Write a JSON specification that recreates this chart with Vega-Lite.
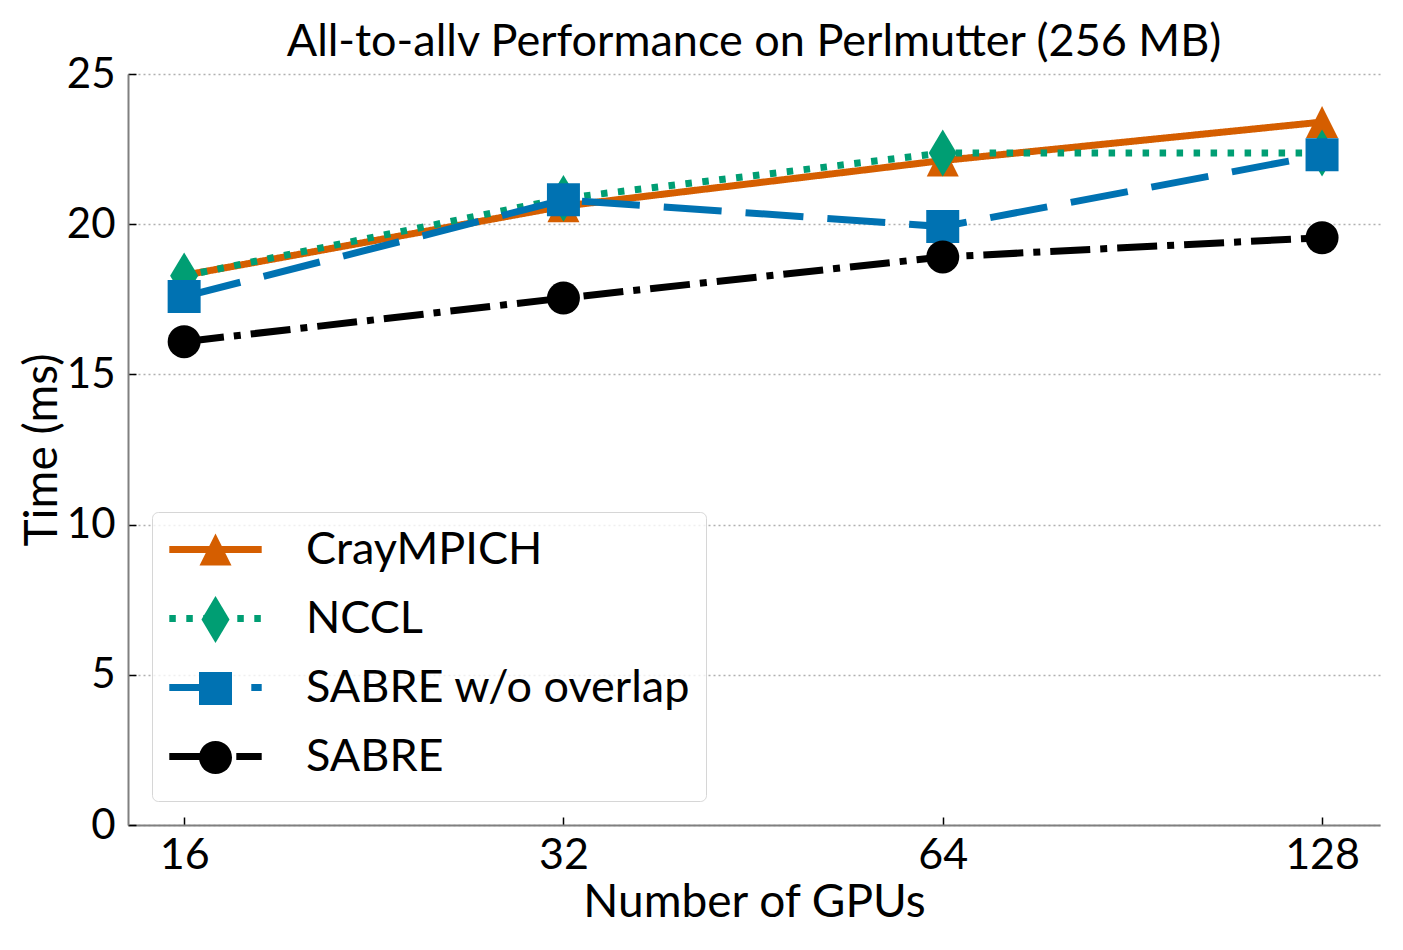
{
  "$schema": "https://vega.github.io/schema/vega-lite/v6.json",
  "autosize": {"type": "none"},
  "padding": {"left": 128, "top": 74, "right": 23, "bottom": 125},
  "width": 1252,
  "height": 751,
  "background": "white",
  "title": {"text": "All-to-allv Performance on Perlmutter (256 MB)", "font": "Lato", "fontSize": 45, "fontWeight": "normal", "color": "black", "offset": 9, "dy": 21, "anchor": "middle"},
  "config": {
    "view": {"stroke": null},
    "font": "Lato",
    "axis": {"labelFont": "Lato", "titleFont": "Lato", "labelColor": "black", "titleColor": "black", "titleFontWeight": "normal"}
  },
  "data": {"values": [
    {"gpus": 16, "time": 18.3, "series": "CrayMPICH"},
    {"gpus": 32, "time": 20.6, "series": "CrayMPICH"},
    {"gpus": 64, "time": 22.12, "series": "CrayMPICH"},
    {"gpus": 128, "time": 23.4, "series": "CrayMPICH"},
    {"gpus": 16, "time": 18.28, "series": "NCCL"},
    {"gpus": 32, "time": 20.86, "series": "NCCL"},
    {"gpus": 64, "time": 22.37, "series": "NCCL"},
    {"gpus": 128, "time": 22.37, "series": "NCCL"},
    {"gpus": 16, "time": 17.59, "series": "SABRE w/o overlap"},
    {"gpus": 32, "time": 20.81, "series": "SABRE w/o overlap"},
    {"gpus": 64, "time": 19.92, "series": "SABRE w/o overlap"},
    {"gpus": 128, "time": 22.31, "series": "SABRE w/o overlap"},
    {"gpus": 16, "time": 16.09, "series": "SABRE"},
    {"gpus": 32, "time": 17.54, "series": "SABRE"},
    {"gpus": 64, "time": 18.91, "series": "SABRE"},
    {"gpus": 128, "time": 19.55, "series": "SABRE"}
  ]},
  "encoding": {
    "x": {"field": "gpus", "type": "quantitative",
      "scale": {"type": "log", "base": 2, "domain": [14.44, 142.3], "nice": false},
      "axis": {"values": [16, 32, 64, 128], "title": "Number of GPUs", "titleFontSize": 46, "labelFontSize": 43, "grid": false,
        "domainColor": "#808080", "domainWidth": 2, "tickColor": "black", "tickWidth": 1.5, "tickSize": -8, "labelPadding": 17, "titlePadding": 3, "labelFlush": false}},
    "y": {"field": "time", "type": "quantitative",
      "scale": {"domain": [0, 25], "nice": false},
      "axis": {"values": [0, 5, 10, 15, 20, 25], "title": "Time (ms)", "titleFontSize": 46, "labelFontSize": 42, "grid": true,
        "gridColor": "#b0b0b0", "gridDash": [2, 3], "gridWidth": 1.3,
        "domainColor": "#808080", "domainWidth": 2, "tickColor": "black", "tickWidth": 1.5, "tickSize": -8, "labelPadding": 21, "titlePadding": 0, "labelFlush": false}}
  },
  "layer": [
    {
      "mark": {"type": "line", "strokeWidth": 7, "strokeCap": "butt"},
      "encoding": {
        "stroke": {"field": "series", "type": "nominal",
          "scale": {"domain": {"expr": "['CrayMPICH', 'NCCL', 'SABRE w/o overlap', 'SABRE']"}, "range": ["#D55E00", "#009E73", "#0072B2", "#000000"]},
          "legend": {"orient": "none", "legendX": 24, "legendY": 438, "title": ".", "titleOrient": "bottom", "titleFontSize": 4, "titlePadding": 2, "titleOpacity": 0,
            "symbolType": "M-2.8,0L2.8,0", "symbolSize": 1089, "symbolStrokeWidth": 7,
            "labelFont": "Lato", "labelFontSize": 45, "labelColor": "black", "labelOffset": 68, "symbolOffset": 26, "labelLimit": 0,
            "padding": 15, "rowPadding": 23, "fillColor": "rgba(255,255,255,0.8)", "strokeColor": "#d6d6d6", "cornerRadius": 6}},
        "strokeDash": {"field": "series", "type": "nominal",
          "scale": {"domain": {"expr": "['CrayMPICH', 'NCCL', 'SABRE w/o overlap', 'SABRE']"}, "range": [[1, 0], [6.5, 10.5], [58, 24], [40, 10, 7, 10]]},
          "legend": {"orient": "none", "legendX": 24, "legendY": 438, "title": ".", "titleOrient": "bottom", "titleFontSize": 4, "titlePadding": 2, "titleOpacity": 0,
            "symbolType": "M-2.8,0L2.8,0", "symbolSize": 1089, "symbolStrokeWidth": 7,
            "labelFont": "Lato", "labelFontSize": 45, "labelColor": "black", "labelOffset": 68, "symbolOffset": 26, "labelLimit": 0,
            "padding": 15, "rowPadding": 23, "fillColor": "rgba(255,255,255,0.8)", "strokeColor": "#d6d6d6", "cornerRadius": 6}}
      }
    },
    {
      "mark": {"type": "point", "filled": true, "opacity": 1, "size": 1089, "strokeWidth": 0},
      "encoding": {
        "color": {"field": "series", "type": "nominal",
          "scale": {"domain": ["CrayMPICH", "NCCL", "SABRE w/o overlap", "SABRE"], "range": ["#D55E00", "#009E73", "#0072B2", "#000000"]},
          "legend": {"orient": "none", "legendX": 24, "legendY": 438, "title": null,
            "symbolSize": 1089, "symbolStrokeWidth": 0,
            "labelFont": "Lato", "labelFontSize": 45, "labelOpacity": 0, "labelOffset": 68, "symbolOffset": 26, "labelLimit": 0,
            "padding": 15, "rowPadding": 23, "fillColor": null, "strokeColor": null}},
        "shape": {"field": "series", "type": "nominal",
          "scale": {"domain": ["CrayMPICH", "NCCL", "SABRE w/o overlap", "SABRE"], "range": ["M0,-0.97L0.97,0.97L-0.97,0.97Z", "M0,-1.42L0.85,0L0,1.42L-0.85,0Z", "square", "circle"]},
          "legend": {"orient": "none", "legendX": 24, "legendY": 438, "title": null,
            "symbolSize": 1089, "symbolStrokeWidth": 0,
            "labelFont": "Lato", "labelFontSize": 45, "labelOpacity": 0, "labelOffset": 68, "symbolOffset": 26, "labelLimit": 0,
            "padding": 15, "rowPadding": 23, "fillColor": null, "strokeColor": null}}
      }
    }
  ]
}
